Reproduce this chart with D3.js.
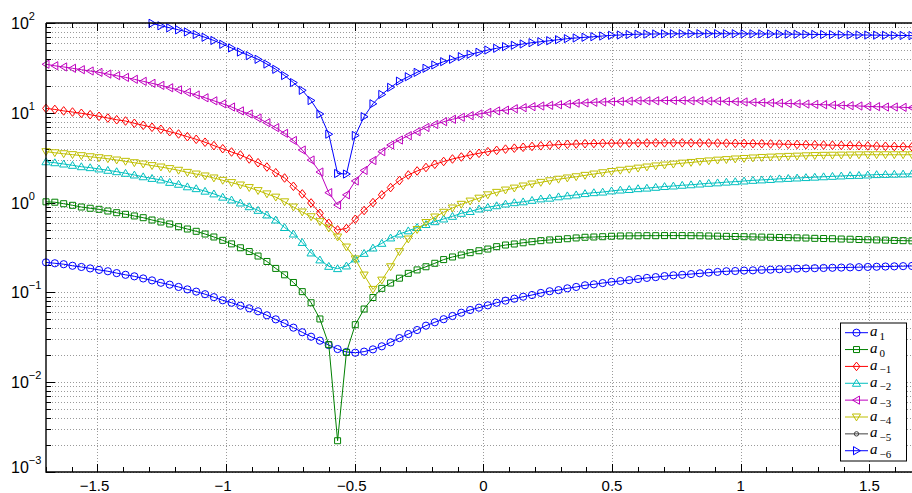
<!DOCTYPE html>
<html><head><meta charset="utf-8">
<script src="https://cdn.jsdelivr.net/npm/d3@7"></script>
<style>html,body{margin:0;padding:0;background:#fff;overflow:hidden}</style>
</head><body><svg id="c" width="912" height="493"></svg>
<script>
// ---------------- data ----------------
const xValues = [-1.7,-1.6657,-1.6313,-1.5970,-1.5626,-1.5283,-1.4939,-1.4596,-1.4253,-1.3909,
-1.3566,-1.3222,-1.2879,-1.2535,-1.2192,-1.1848,-1.1505,-1.1162,-1.0818,-1.0475,
-1.0131,-0.9788,-0.9444,-0.9101,-0.8758,-0.8414,-0.8071,-0.7727,-0.7384,-0.7040,
-0.6697,-0.6354,-0.6010,-0.5667,-0.5323,-0.4980,-0.4636,-0.4293,-0.3949,-0.3606,
-0.3263,-0.2919,-0.2576,-0.2232,-0.1889,-0.1545,-0.1202,-0.0859,-0.0515,-0.0172,
0.0172,0.0515,0.0859,0.1202,0.1545,0.1889,0.2232,0.2576,0.2919,0.3263,
0.3606,0.3949,0.4293,0.4636,0.4980,0.5323,0.5667,0.6010,0.6354,0.6697,
0.7040,0.7384,0.7727,0.8071,0.8414,0.8758,0.9101,0.9444,0.9788,1.0131,
1.0475,1.0818,1.1162,1.1505,1.1848,1.2192,1.2535,1.2879,1.3222,1.3566,
1.3909,1.4253,1.4596,1.4939,1.5283,1.5626,1.5970,1.6313,1.6657,1.7];

const a1 = [0.216,0.211,0.206,0.198,0.192,0.185,0.178,0.172,0.164,0.157,
0.151,0.143,0.136,0.128,0.122,0.115,0.108,0.102,0.0955,0.0885,
0.0817,0.0767,0.0711,0.0665,0.0616,0.0556,0.0501,0.0453,0.0405,0.0360,
0.0321,0.0290,0.0259,0.0234,0.0217,0.0213,0.0219,0.0232,0.0251,0.0278,
0.0310,0.0344,0.0381,0.0426,0.0465,0.0503,0.0546,0.0594,0.0637,0.0676,
0.0718,0.0767,0.0809,0.0851,0.0895,0.0935,0.0986,0.103,0.106,0.111,
0.115,0.120,0.123,0.127,0.131,0.134,0.137,0.141,0.145,0.148,
0.152,0.155,0.157,0.160,0.163,0.166,0.169,0.172,0.173,0.175,
0.176,0.178,0.179,0.181,0.182,0.184,0.185,0.186,0.187,0.188,
0.189,0.190,0.191,0.192,0.193,0.194,0.195,0.196,0.197,0.198];

const a0 = [1.02,1.01,0.972,0.933,0.893,0.865,0.842,0.806,0.772,0.741,
0.710,0.679,0.640,0.608,0.578,0.539,0.508,0.479,0.447,0.414,
0.380,0.347,0.314,0.285,0.254,0.221,0.185,0.157,0.129,0.102,
0.0767,0.0506,0.0262,0.00223,0.0215,0.0437,0.0653,0.0877,0.111,0.127,
0.144,0.163,0.178,0.193,0.211,0.232,0.248,0.261,0.277,0.291,
0.304,0.323,0.337,0.346,0.357,0.367,0.377,0.384,0.390,0.396,
0.404,0.411,0.414,0.417,0.422,0.425,0.426,0.427,0.428,0.428,
0.429,0.429,0.429,0.428,0.427,0.425,0.423,0.421,0.419,0.417,
0.415,0.413,0.411,0.409,0.407,0.405,0.403,0.400,0.398,0.396,
0.393,0.391,0.388,0.386,0.384,0.382,0.379,0.377,0.375,0.373];

const am1 = [11.2,10.9,10.5,10.2,9.87,9.52,9.14,8.75,8.37,8.10,
7.64,7.26,6.90,6.55,6.16,5.81,5.42,5.07,4.70,4.31,
3.98,3.66,3.39,3.06,2.78,2.49,2.15,1.88,1.52,1.25,
0.991,0.760,0.589,0.496,0.515,0.652,0.817,1.00,1.22,1.47,
1.76,2.03,2.25,2.46,2.67,2.87,3.06,3.22,3.39,3.54,
3.69,3.82,3.94,4.04,4.13,4.22,4.29,4.36,4.42,4.46,
4.49,4.53,4.55,4.58,4.59,4.60,4.61,4.62,4.62,4.63,
4.63,4.63,4.63,4.62,4.62,4.61,4.60,4.59,4.57,4.56,
4.54,4.52,4.50,4.48,4.46,4.44,4.42,4.40,4.38,4.36,
4.34,4.32,4.30,4.28,4.26,4.24,4.22,4.20,4.18,4.16];

const am2 = [2.85,2.78,2.69,2.60,2.51,2.45,2.37,2.29,2.21,2.12,
2.03,1.94,1.86,1.79,1.68,1.60,1.50,1.43,1.34,1.25,
1.15,1.07,0.99,0.90,0.82,0.728,0.640,0.528,0.447,0.360,
0.275,0.230,0.195,0.184,0.197,0.236,0.272,0.312,0.352,0.404,
0.447,0.485,0.528,0.570,0.613,0.657,0.703,0.760,0.796,0.849,
0.887,0.923,0.964,0.998,1.02,1.06,1.10,1.12,1.16,1.19,
1.22,1.26,1.29,1.31,1.35,1.38,1.40,1.43,1.45,1.48,
1.51,1.53,1.56,1.58,1.61,1.64,1.66,1.69,1.71,1.74,
1.77,1.79,1.81,1.84,1.86,1.88,1.90,1.92,1.94,1.96,
1.98,2.00,2.01,2.03,2.05,2.06,2.07,2.08,2.09,2.10];

const am3 = [34.7,33.4,32.4,31.3,30.2,29.2,28.2,27.0,25.9,24.8,
23.6,22.4,21.3,20.2,19.0,18.0,16.9,15.8,14.7,13.6,
12.6,11.6,10.5,9.70,8.75,7.76,6.83,5.91,4.92,3.85,
2.98,2.19,1.29,0.940,1.22,1.74,2.28,2.94,3.69,4.38,
4.98,5.56,6.16,6.86,7.41,7.96,8.47,8.92,9.29,9.70,
10.1,10.5,10.7,11.1,11.4,11.7,11.9,12.1,12.3,12.5,
12.8,12.9,13.1,13.2,13.3,13.4,13.5,13.6,13.6,13.6,
13.7,13.7,13.7,13.6,13.6,13.5,13.5,13.4,13.3,13.2,
13.1,13.0,12.9,12.8,12.7,12.6,12.5,12.4,12.3,12.2,
12.1,12.0,11.9,11.8,11.7,11.6,11.6,11.5,11.4,11.3];

const am4 = [3.69,3.59,3.50,3.42,3.33,3.24,3.16,3.08,2.98,2.88,
2.78,2.69,2.58,2.49,2.39,2.29,2.17,2.08,1.98,1.88,
1.77,1.67,1.57,1.47,1.36,1.25,1.15,1.02,0.893,0.786,
0.696,0.613,0.521,0.414,0.320,0.236,0.156,0.108,0.137,0.193,
0.284,0.393,0.501,0.600,0.691,0.780,0.871,0.957,1.04,1.12,
1.22,1.30,1.38,1.45,1.53,1.61,1.68,1.75,1.82,1.88,
1.94,2.01,2.08,2.15,2.22,2.29,2.35,2.42,2.49,2.56,
2.62,2.68,2.75,2.80,2.86,2.91,2.97,3.01,3.06,3.10,
3.14,3.18,3.21,3.24,3.27,3.29,3.32,3.34,3.36,3.37,
3.38,3.39,3.40,3.41,3.41,3.41,3.41,3.41,3.41,3.41];

// a_{-5}: no value of this series is visible inside the axes
const am5 = [];

// a_{-6}: values left of x≈-1.29 lie above the top of the axes
const am6 = [null,null,null,null,null,null,null,null,null,null,null,null,
99.3,93.1,88.4,84.0,79.4,74.5,69.3,63.9,
57.9,52.7,47.5,43.3,39.4,34.9,30.5,26.0,21.7,17.8,
13.7,9.70,5.78,2.11,2.08,5.59,9.06,12.6,16.0,19.2,
22.5,25.2,28.2,31.3,34.1,37.1,39.4,42.2,44.8,47.2,
50.0,52.3,54.5,56.5,58.4,60.4,61.9,63.5,65.2,66.9,
68.1,69.3,70.4,71.6,72.9,73.5,74.5,75.0,75.3,75.5,
75.7,75.8,75.9,76.0,76.0,76.0,76.0,75.9,75.9,75.8,
75.7,75.6,75.5,75.4,75.2,75.0,74.8,74.6,74.4,74.2,
74.0,73.8,73.6,73.4,73.2,73.0,72.8,72.6,72.4,72.2];

const seriesValues = [a1, a0, am1, am2, am3, am4, am5, am6];
const seriesSubscripts = ["1", "0", "\u22121", "\u22122", "\u22123", "\u22124", "\u22125", "\u22126"];
const seriesColors = ["#0000ff", "#008000", "#ff0000", "#00bfbf", "#bf00bf", "#bfbf00", "#404040", "#0000ff"];
const seriesMarkers = ["circle", "square", "diamond", "up", "left", "down", "point", "right"];

const xTickValues = [-1.5, -1, -0.5, 0, 0.5, 1, 1.5];
const xTickLabels = ["\u22121.5", "\u22121", "\u22120.5", "0", "0.5", "1", "1.5"];
const yTickValues = [1e-3, 1e-2, 1e-1, 1, 10, 100];
const yTickExponents = ["\u22123", "\u22122", "\u22121", "0", "1", "2"];

// ---------------- layout ----------------
const svg = d3.select("#c");
const L = 46, T = 23, B = 472, R = 920.8;
const x = d3.scaleLinear().domain([-1.7, 1.7]).range([L, R]);
const y = d3.scaleLog().domain([1e-3, 1e2]).range([B, T]);

svg.append("defs").append("clipPath").attr("id", "clip")
  .append("rect").attr("x", L).attr("y", T).attr("width", R - L).attr("height", B - T);

// grid
const grid = svg.append("g").attr("stroke", "#9a9a9a").attr("stroke-width", 1)
  .attr("stroke-dasharray", "1 2").attr("fill", "none");
y.ticks().forEach(v => {
  const yy = Math.round(y(v)) + 0.5;
  grid.append("line").attr("x1", L).attr("x2", R).attr("y1", yy).attr("y2", yy);
});
xTickValues.forEach(v => {
  const xx = Math.round(x(v)) + 0.5;
  grid.append("line").attr("x1", xx).attr("x2", xx).attr("y1", T).attr("y2", B);
});

// ticks
const ax = svg.append("g").attr("stroke", "#000").attr("stroke-width", 1);
x.ticks(34).forEach(v => {
  const major = xTickValues.some(t => Math.abs(t - v) < 1e-9);
  const len = major ? 8 : 5;
  const xx = Math.round(x(v)) + 0.5;
  ax.append("line").attr("x1", xx).attr("x2", xx).attr("y1", B).attr("y2", B - len);
  ax.append("line").attr("x1", xx).attr("x2", xx).attr("y1", T).attr("y2", T + len);
});
y.ticks().forEach(v => {
  const major = yTickValues.some(t => Math.abs(t - v) / t < 1e-9);
  const len = major ? 9 : 5;
  const yy = Math.round(y(v)) + 0.5;
  ax.append("line").attr("x1", L).attr("x2", L + len).attr("y1", yy).attr("y2", yy);
});

// markers
function markerPath(type) {
  switch (type) {
    case "circle": return d3.symbol(d3.symbolCircle, Math.PI * 3.6 * 3.6)();
    case "square": return "M-3,-3H3V3H-3Z";
    case "diamond": return "M0,-4.3L3.4,0L0,4.3L-3.4,0Z";
    case "up": return "M0,-3.9L4.1,3L-4.1,3Z";
    case "down": return "M0,3.9L4.1,-3L-4.1,-3Z";
    case "left": return "M-3.9,0L3,-4.1L3,4.1Z";
    case "right": return "M3.9,0L-3,-4.1L-3,4.1Z";
    case "point": return d3.symbol(d3.symbolCircle, Math.PI * 2.2 * 2.2)();
  }
}

const line = d3.line().defined(d => d.v != null).x(d => x(d.x)).y(d => y(d.v));
const plot = svg.append("g");
seriesValues.forEach((vals, k) => {
  const pts = vals.map((v, i) => ({x: xValues[i], v: v}));
  if (!pts.length) return;
  const g = plot.append("g");
  g.append("path").attr("clip-path", "url(#clip)").attr("d", line(pts))
    .attr("fill", "none").attr("stroke", seriesColors[k]).attr("stroke-width", 1);
  const mp = markerPath(seriesMarkers[k]);
  g.selectAll("path.m").data(pts.filter(d => d.v != null && d.v >= 1e-3 && d.v <= 100.5 && d.x <= 1.7))
    .join("path").attr("class", "m").attr("d", mp)
    .attr("transform", d => `translate(${x(d.x)},${y(d.v)})`)
    .attr("fill", "none").attr("stroke", seriesColors[k]).attr("stroke-width", 1);
});

// axis box lines
const box = svg.append("g").attr("stroke", "#000").attr("stroke-width", 1.4).attr("fill", "none");
box.append("line").attr("x1", L).attr("x2", L).attr("y1", T).attr("y2", B + 0.7);
box.append("line").attr("x1", L).attr("x2", R).attr("y1", B).attr("y2", B);
box.append("line").attr("x1", L).attr("x2", R).attr("y1", T).attr("y2", T);

// x tick labels
const labs = svg.append("g").attr("font-family", "'Liberation Sans', Arial, sans-serif").attr("fill", "#000");
xTickValues.forEach((v, i) => {
  labs.append("text").attr("x", x(v) - (v < 0 ? 3 : 0)).attr("y", 491).attr("text-anchor", "middle")
    .attr("font-size", 15).text(xTickLabels[i]);
});
// y tick labels
yTickValues.forEach((v, i) => {
  const base = Math.min(y(v) + 6, 473);
  const t = labs.append("text").attr("x", 11).attr("y", base).attr("font-size", 16);
  t.append("tspan").text("10");
  t.append("tspan").attr("dy", -9).attr("font-size", 11).text(yTickExponents[i]);
});

// legend
const lg = svg.append("g");
const lx = 840, ly = 322.5, lw = 66, lh = 138;
lg.append("rect").attr("x", lx + 0.5).attr("y", ly + 0.5).attr("width", lw).attr("height", lh)
  .attr("fill", "#fff").attr("stroke", "#000").attr("stroke-width", 1);
seriesSubscripts.forEach((s, k) => {
  const ry = 332.7 + k * 16.86;
  lg.append("line").attr("x1", 845).attr("x2", 868).attr("y1", ry).attr("y2", ry)
    .attr("stroke", seriesColors[k]).attr("stroke-width", 1);
  lg.append("path").attr("d", markerPath(seriesMarkers[k])).attr("transform", `translate(856.5,${ry})`)
    .attr("fill", "none").attr("stroke", seriesColors[k]).attr("stroke-width", 1);
  lg.append("text").attr("x", 870).attr("y", ry + 3.5)
    .attr("font-family", "'Liberation Serif', serif").attr("font-style", "italic")
    .attr("font-size", 15).attr("fill", "#000").attr("textLength", 9.5).text("a");
  lg.append("text").attr("x", 879.5).attr("y", ry + 7)
    .attr("font-family", "'Liberation Serif', serif").attr("font-size", 11)
    .attr("fill", "#000").text(s);
});
</script></body></html>
